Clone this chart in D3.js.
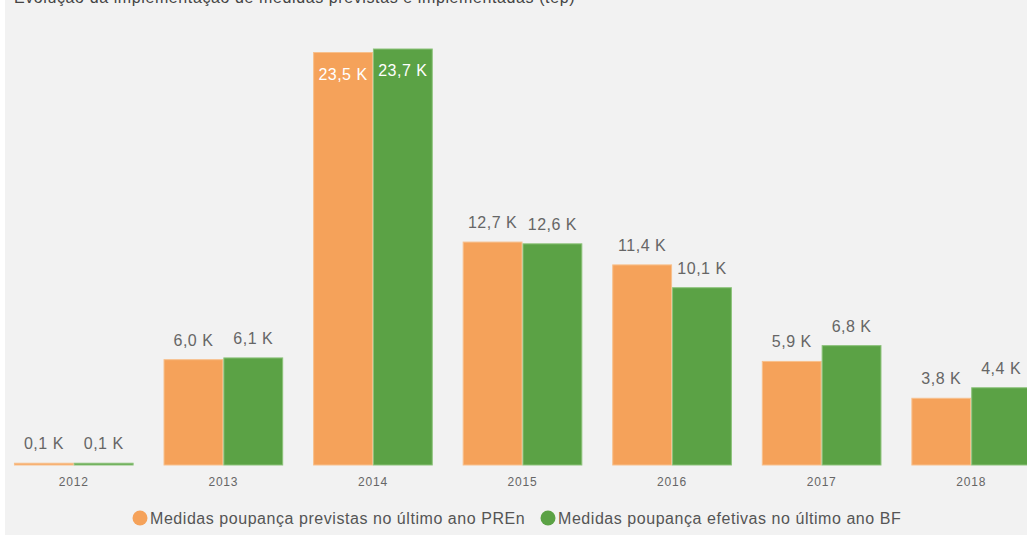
<!DOCTYPE html>
<html>
<head>
<meta charset="utf-8">
<script src="https://cdn.jsdelivr.net/npm/d3@7"></script>
<style>
  body { margin: 0; background: #fff; }
  svg { display: block; font-family: "Liberation Sans", Arial, sans-serif; }
</style>
</head>
<body>
<div id="chart"></div>
<script>
const years = ['2012', '2013', '2014', '2015', '2016', '2017', '2018'];
const previstas = [0.1, 6.0, 23.5, 12.7, 11.4, 5.9, 3.8];
const efetivas = [0.1, 6.1, 23.7, 12.6, 10.1, 6.8, 4.4];
const seriesNames = ['Medidas poupança previstas no último ano PREn', 'Medidas poupança efetivas no último ano BF'];
const colors = ['#f5a25a', '#5ba245'];
const strokes = ['#f8c08c', '#8cc27a'];

const width = 1027;
const height = 537;

const svg = d3.select('#chart').append('svg')
  .attr('width', width)
  .attr('height', height);

svg.append('rect')
  .attr('x', 5).attr('y', 0)
  .attr('width', width - 5).attr('height', 535)
  .attr('fill', '#f2f2f2');

// title, cut off at the top in the original
svg.append('text')
  .attr('x', 14).attr('y', 3)
  .attr('font-size', 16)
  .attr('letter-spacing', 0.6)
  .attr('fill', '#444')
  .text('Evolução da implementação de medidas previstas e implementadas (tep)');

const x0 = d3.scaleBand()
  .domain(years)
  .range([-1, 1046])
  .paddingInner(0.2)
  .paddingOuter(0.1);

const x1 = d3.scaleBand()
  .domain([0, 1])
  .range([0, x0.bandwidth()]);

const y = d3.scaleLinear()
  .domain([0, 23.7])
  .range([465, 49]);

const fmt = (v) => d3.format('.1f')(v).replace('.', ',') + ' K';

const data = years.map((yr, i) => ({ year: yr, values: [previstas[i], efetivas[i]] }));

const groups = svg.selectAll('.grp')
  .data(data)
  .enter().append('g')
  .attr('class', 'grp')
  .attr('transform', (d) => `translate(${x0(d.year)},0)`);

groups.selectAll('rect')
  .data((d) => d.values.map((v, k) => ({ v, k })))
  .enter().append('rect')
  .attr('x', (d) => x1(d.k) + 0.5)
  .attr('y', (d) => y(d.v))
  .attr('width', x1.bandwidth() - 1)
  .attr('height', (d) => y(0) - y(d.v))
  .attr('fill', (d) => colors[d.k])
  .attr('stroke', (d) => strokes[d.k])
  .attr('stroke-width', 1);

groups.selectAll('.lbl')
  .data((d) => d.values.map((v, k) => ({ v, k })))
  .enter().append('text')
  .attr('class', 'lbl')
  .attr('x', (d) => x1(d.k) + x1.bandwidth() / 2)
  .attr('y', (d) => (d.v > 20 ? y(d.v) + 27 : y(d.v) - 14))
  .attr('text-anchor', 'middle')
  .attr('font-size', 16)
  .attr('letter-spacing', 0.5)
  .attr('fill', (d) => (d.v > 20 ? '#fff' : '#666'))
  .text((d) => fmt(d.v));

const xAxis = svg.append('g')
  .attr('transform', `translate(0,${y(0)})`)
  .call(d3.axisBottom(x0).tickSize(0).tickPadding(12));
xAxis.select('.domain').remove();
xAxis.selectAll('text')
  .attr('font-size', 12)
  .attr('font-family', '"Liberation Sans", Arial, sans-serif')
  .attr('letter-spacing', 0.8)
  .attr('fill', '#666');

// legend
const legend = svg.append('g').attr('transform', 'translate(0,518)');
const legX = [140, 548];
seriesNames.forEach((name, i) => {
  legend.append('circle')
    .attr('cx', legX[i]).attr('cy', 0).attr('r', 7.5)
    .attr('fill', colors[i]);
  legend.append('text')
    .attr('x', legX[i] + 10).attr('y', 5.5)
    .attr('font-size', 16)
    .attr('letter-spacing', 0.55)
    .attr('fill', '#555')
    .text(name);
});
</script>
</body>
</html>
